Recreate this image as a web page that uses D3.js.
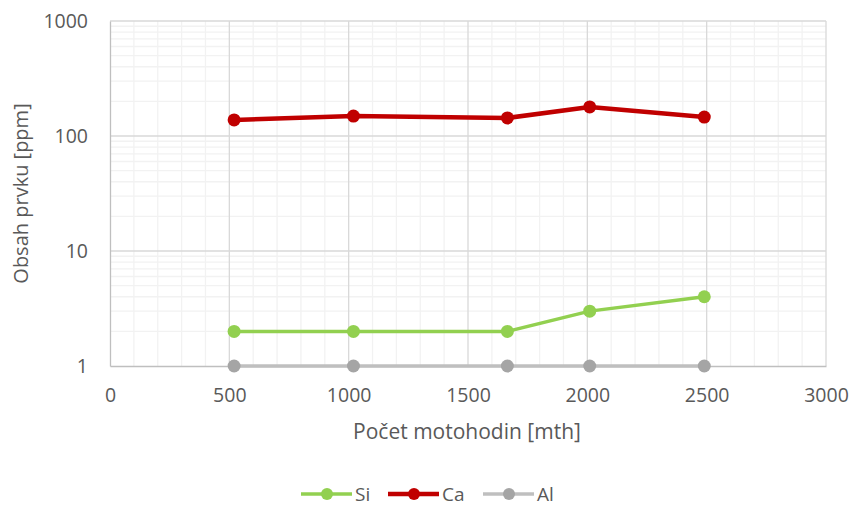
<!DOCTYPE html>
<html>
<head>
<meta charset="utf-8">
<script src="https://d3js.org/d3.v7.min.js"></script>
<style>
  body { margin: 0; background: #fff; }
  text { font-family: "Open Sans", sans-serif; fill: #595959; }
</style>
</head>
<body>
<div id="chart"></div>
<script>
const xValues = [520, 1020, 1665, 2010, 2490];
const siValues = [2, 2, 2, 3, 4];
const caValues = [138, 149, 143.5, 179, 146];
const alValues = [1, 1, 1, 1, 1];
const xTicks = [0, 500, 1000, 1500, 2000, 2500, 3000];
const yTicks = [1, 10, 100, 1000];

const series = [
  { name: 'Si', values: siValues, line: '#92D050', dot: '#92D050', w: 3.5 },
  { name: 'Ca', values: caValues, line: '#C00000', dot: '#C00000', w: 4.5 },
  { name: 'Al', values: alValues, line: '#BFBFBF', dot: '#A5A5A5', w: 3.5 }
];

const width = 849, height = 508;
const m = { left: 110, right: 23, top: 21, bottom: 142 };

const svg = d3.select('#chart').append('svg')
  .attr('width', width).attr('height', height);

const x = d3.scaleLinear().domain([0, 3000]).range([m.left, width - m.right]);
const y = d3.scaleLog().domain([1, 1000]).range([height - m.bottom, m.top]);

// minor gridlines
const minorX = d3.range(0, 3001, 100).filter(v => v % 500 !== 0);
const minorY = [];
[1, 10, 100].forEach(d => { for (let k = 2; k <= 9; k++) minorY.push(d * k); });

const grid = svg.append('g');
grid.selectAll('.mx').data(minorX).join('line')
  .attr('x1', d => x(d)).attr('x2', d => x(d))
  .attr('y1', y(1)).attr('y2', y(1000))
  .attr('stroke', '#F2F2F2').attr('stroke-width', 1.3);
grid.selectAll('.my').data(minorY).join('line')
  .attr('x1', x(0)).attr('x2', x(3000))
  .attr('y1', d => y(d)).attr('y2', d => y(d))
  .attr('stroke', '#F2F2F2').attr('stroke-width', 1.3);
grid.selectAll('.Mx').data(xTicks.slice(1)).join('line')
  .attr('x1', d => x(d)).attr('x2', d => x(d))
  .attr('y1', y(1)).attr('y2', y(1000))
  .attr('stroke', '#D9D9D9').attr('stroke-width', 1.3);
grid.selectAll('.My').data(yTicks.slice(1)).join('line')
  .attr('x1', x(0)).attr('x2', x(3000))
  .attr('y1', d => y(d)).attr('y2', d => y(d))
  .attr('stroke', '#D9D9D9').attr('stroke-width', 1.3);

// axes
const xAxis = svg.append('g')
  .attr('transform', `translate(0,${y(1)})`)
  .call(d3.axisBottom(x).tickValues(xTicks).tickFormat(d3.format('d')).tickSize(0).tickPadding(22));
const yAxis = svg.append('g')
  .attr('transform', `translate(${x(0)},0)`)
  .call(d3.axisLeft(y).tickValues(yTicks).tickFormat(d3.format('d')).tickSize(0).tickPadding(22));
[xAxis, yAxis].forEach(a => {
  a.select('.domain').attr('stroke', '#BFBFBF').attr('stroke-width', 1.3);
  a.selectAll('text').style('font-size', '19.5px').attr('fill', '#595959')
    .style('font-family', '"Open Sans", sans-serif');
});

// titles
svg.append('text')
  .attr('x', (x(0) + x(3000)) / 2 - 1).attr('y', 439)
  .attr('text-anchor', 'middle').style('font-size', '21px')
  .text('Počet motohodin [mth]');
svg.append('text')
  .attr('transform', `translate(28,${(y(1) + y(1000)) / 2}) rotate(-90)`)
  .attr('text-anchor', 'middle').style('font-size', '20px')
  .text('Obsah prvku [ppm]');

// lines and markers
const line = d3.line().x((d, i) => x(xValues[i])).y(d => y(d));
const plot = svg.append('g');
series.slice().reverse().forEach(s => {
  plot.append('path').datum(s.values)
    .attr('d', line).attr('fill', 'none')
    .attr('stroke', s.line).attr('stroke-width', s.w)
    .attr('stroke-linejoin', 'round');
  plot.selectAll(null).data(s.values).join('circle')
    .attr('cx', (d, i) => x(xValues[i])).attr('cy', d => y(d))
    .attr('r', 6.5).attr('fill', s.dot);
});

// legend
const legendX = [301, 388, 483];
const leg = svg.append('g').attr('transform', 'translate(0,494)');
series.forEach((s, i) => {
  const g = leg.append('g').attr('transform', `translate(${legendX[i]},0)`);
  g.append('line').attr('x1', 0).attr('x2', 51).attr('y1', 0).attr('y2', 0)
    .attr('stroke', s.line).attr('stroke-width', s.w);
  g.append('circle').attr('cx', 26).attr('cy', 0).attr('r', 6).attr('fill', s.dot);
  g.append('text').attr('x', 54).attr('y', 7).style('font-size', '19px').text(s.name);
});
</script>
</body>
</html>
